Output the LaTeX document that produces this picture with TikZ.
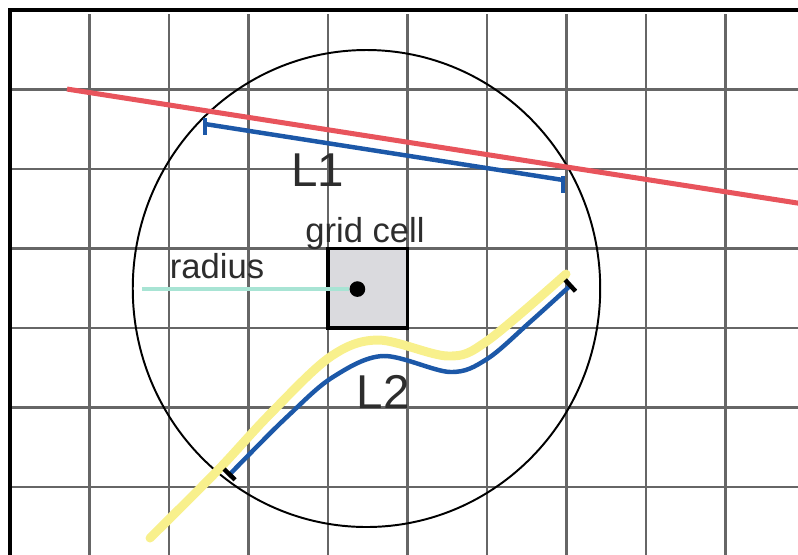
\documentclass[tikz,border=0pt]{standalone}
\usepackage{fontspec}
\setmainfont{Liberation Sans}
\usepackage{tikz}
\usetikzlibrary{arrows.meta}
\definecolor{cellgray}{RGB}{218,218,222}
\definecolor{lineblue}{RGB}{28,88,168}
\definecolor{linered}{RGB}{232,84,92}
\definecolor{pathyellow}{RGB}{248,240,140}
\definecolor{radiusteal}{RGB}{168,228,212}
\definecolor{tagcolor}{RGB}{45,45,45}

\begin{document}
\begin{tikzpicture}[
    gridline/.style={black!60, line width=0.8pt},
    bigtag/.style={text=tagcolor, inner sep=0pt, font=\fontsize{17}{20}\selectfont},
    smalltag/.style={text=tagcolor, inner sep=0pt, font=\fontsize{12.4}{14}\selectfont},
    cellbox/.style={draw, line width=1.2pt, fill=cellgray, minimum size=1cm, inner sep=0pt},
    bluetrack/.style={lineblue, line width=1.6pt},
  ]
  \useasboundingbox (-0.126,0.126) rectangle (9.912,-6.843);
  % grid
  \foreach \x in {1,...,9}
    \draw[gridline] (\x,-0.05) -- (\x,-6.85);
  \foreach \y in {1,...,6}
    \draw[gridline] (0,-\y) -- (9.92,-\y);
  \draw[line width=1.2pt] (0,-6.85) -- (0,0) -- (9.92,0);

  % search circle
  \draw[line width=0.7pt] (4.484,-3.503) ellipse [x radius=2.94, y radius=3.0];

  % cell and radius
  \node[cellbox] (cell) at (4.5,-3.5) {};
  \coordinate (rstart) at (1.66,-3.51);
  \node[circle, fill=black, inner sep=0pt, minimum size=5.6pt] (dot) at (4.37,-3.51) {};
  \draw[radiusteal, line width=1.5pt] (rstart) -- (dot.west);
  \node[smalltag, anchor=base] (celltag) at (4.465,-2.918) {grid cell};
  \node[smalltag, anchor=base] (radtag) at (2.604,-3.375) {radius};

  % straight segment L1
  \coordinate (l1a) at (2.453,-1.434);
  \coordinate (l1b) at (6.956,-2.138);
  \draw[bluetrack] (l1a) -- (l1b);
  \draw[bluetrack] ([yshift=2.2pt]l1a) -- ([yshift=-4pt]l1a);
  \draw[bluetrack] ([yshift=1.5pt]l1b) -- ([yshift=-4.5pt]l1b);
  \coordinate (reda) at (0.717,-0.994);
  \coordinate (redb) at (9.92,-2.43);
  \draw[linered, line width=1.8pt] (reda) -- (redb);
  \node[bigtag] (l1tag) at (3.874,-2.013) {L1};

  % curved track L2
  \draw[pathyellow, line width=3.2pt, line cap=round] plot[smooth, tension=0.55] coordinates {
    (1.761,-6.642) (2.604,-5.799) (3.270,-5.082) (4.025,-4.365) (4.629,-4.151)
    (5.509,-4.352) (6.000,-4.164) (6.994,-3.321)};
  \draw[bluetrack, {Bar[width=5.5pt, color=black]}-{Bar[width=5.5pt, color=black]}] plot[smooth, tension=0.55] coordinates {
    (2.742,-5.862) (3.522,-5.082) (4.063,-4.616) (4.692,-4.352)
    (5.535,-4.553) (6.000,-4.390) (6.541,-3.925) (7.069,-3.447)};
  \node[bigtag] (l2tag) at (4.692,-4.805) {L2};
\end{tikzpicture}
\end{document}
